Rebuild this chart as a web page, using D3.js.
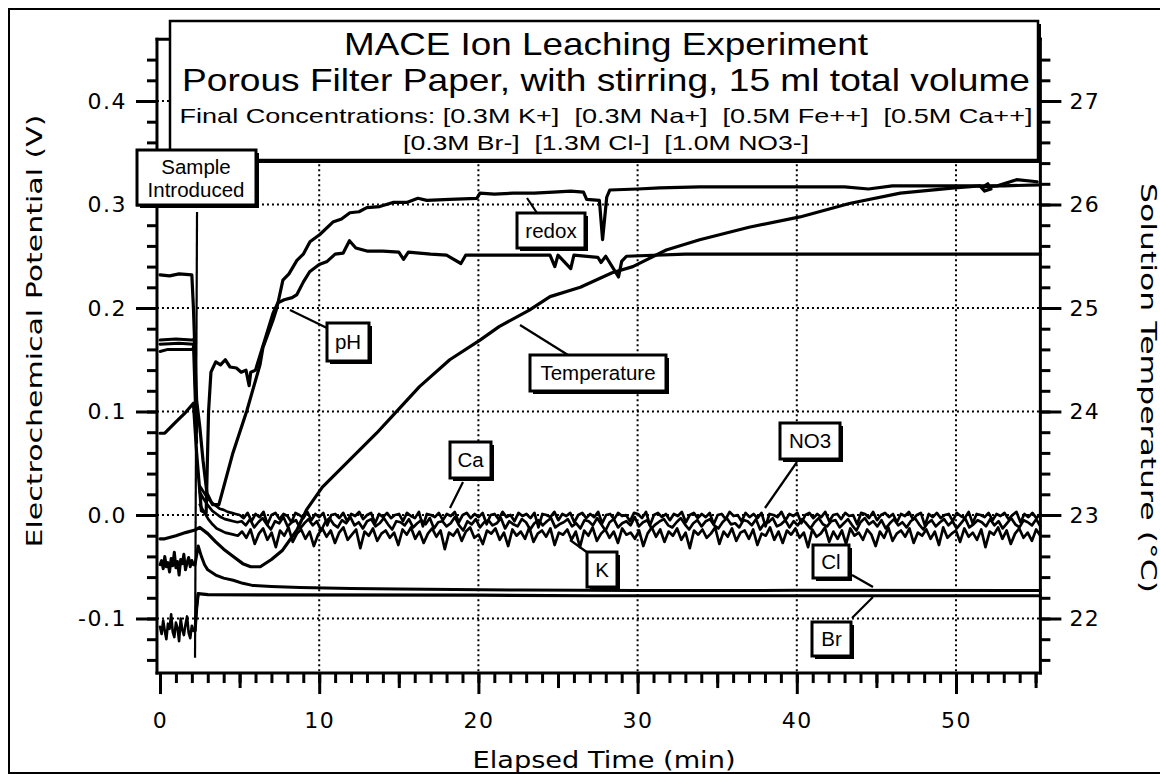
<!DOCTYPE html>
<html><head><meta charset="utf-8">
<script src="https://cdn.jsdelivr.net/npm/d3@7"></script>
<style>body{margin:0;background:#fff}svg{display:block}text{white-space:pre}</style>
</head><body>
<svg id="c" width="1160" height="774"></svg>
<script>
// ---------------- data ----------------
const titleLines = ["MACE Ion Leaching Experiment",
  "Porous Filter Paper, with stirring, 15 ml total volume",
  "Final Concentrations: [0.3M K+]  [0.3M Na+]  [0.5M Fe++]  [0.5M Ca++]",
  "[0.3M Br-]  [1.3M Cl-]  [1.0M NO3-]"];
const xTitle = "Elapsed Time (min)";
const yLeftTitle = "Electrochemical Potential (V)";
const yRightTitle = "Solution Temperature (°C)";
const xMajorTicks = [0,10,20,30,40,50];
const yLeftTicks = [-0.1,0,0.1,0.2,0.3,0.4];
const yRightTicks = [22,23,24,25,26,27];
const sampleTime = 2.2;

// redox (V) [min, V]
const redox = [[0,0.232],[0.6,0.231],[1.2,0.233],[2.0,0.232],[2.1,0.2],[2.3,0.111],[2.5,0.085],[2.7,0.053],[2.95,0.021],[3.3,0.010],[3.7,0.010],
 [4.58,0.060],[5.46,0.101],[6.28,0.145],[6.47,0.162],[7.09,0.188],[7.34,0.200],[7.72,0.227],[8.1,0.233],[8.6,0.246],[9.0,0.252],[9.42,0.264],[10.04,0.271],
 [10.86,0.283],[11.4,0.286],[11.93,0.292],[12.5,0.293],[12.99,0.297],[13.8,0.298],[14.63,0.302],[15.5,0.302],[16.2,0.306],[16.76,0.304],[18.2,0.305],[19.9,0.306],
 [20.1,0.311],[21.0,0.310],[22.2,0.311],[23.5,0.311],[24.7,0.312],[25.8,0.313],[26.6,0.312],[26.8,0.305],[27.6,0.304],[27.8,0.266],[28.06,0.307],[28.25,0.314],
 [30.0,0.315],[31.4,0.316],[33.9,0.317],[37,0.317],[40,0.317],[43,0.317],[44.5,0.315],[46,0.318],[50,0.318],[53,0.318],[55.3,0.319]];

// pH electrode (V)
const pH = [[0,0.079],[0.3,0.079],[1.0,0.09],[1.6,0.099],[2.1,0.108],[2.3,0.06],[2.6,0.004],[2.9,0.002],[3.05,0.10],[3.2,0.138],[3.5,0.148],[3.8,0.145],
 [4.1,0.150],[4.4,0.143],[4.8,0.142],[5.1,0.138],[5.4,0.140],[5.6,0.125],[5.7,0.138],[6.0,0.14],[6.3,0.155],[6.7,0.175],[7.1,0.195],[7.4,0.205],[7.8,0.208],
 [8.3,0.210],[8.6,0.213],[9.0,0.225],[9.4,0.235],[10.0,0.242],[10.5,0.245],[11.0,0.252],[11.5,0.253],[11.9,0.265],[12.3,0.258],[13.0,0.255],[14.0,0.255],
 [15.0,0.254],[15.3,0.247],[15.6,0.254],[17,0.252],[18,0.251],[18.9,0.243],[19.2,0.251],[22,0.251],[24.5,0.251],[24.8,0.24],[25,0.251],[25.8,0.238],
 [26,0.251],[27.5,0.249],[27.7,0.244],[28,0.25],[28.8,0.23],[29.0,0.245],[29.3,0.25],[33,0.252],[40,0.252],[48,0.252],[55.3,0.252]];

// temperature (°C, right axis)
const temperature = [[0,22.77],[0.3,22.77],[1.0,22.80],[1.6,22.83],[2.2,22.855],[2.5,22.88],[3.0,22.82],[3.5,22.74],[4.0,22.67],[4.6,22.6],[5.2,22.53],
 [5.7,22.50],[6.3,22.50],[7.0,22.57],[7.7,22.66],[8.6,22.855],[9.2,23.05],[10.2,23.27],[11.9,23.53],[13.6,23.79],[15.1,24.04],[16.3,24.24],[18.2,24.50],
 [20.1,24.69],[21.3,24.82],[23.2,24.98],[24.5,25.11],[26.4,25.20],[28.4,25.34],[29.7,25.40],[31.8,25.56],[33.9,25.66],[37,25.78],[40.2,25.88],[43.3,26.01],
 [46.5,26.11],[49.9,26.16],[51.5,26.18],[51.8,26.13],[52.2,26.15],[52.0,26.20],[51.7,26.17],[52.6,26.18],[53.8,26.24],[55.1,26.22]];

// ion electrodes before the sample (V)
const caPre  = [[0,0.169],[1.0,0.170],[2.0,0.169],[2.15,0.170],[2.3,0.08]];
const no3Pre = [[0,0.158],[0.5,0.160],[2.0,0.160],[2.15,0.162],[2.3,0.09]];
const kPre   = [[0,0.165],[1.2,0.166],[2.1,0.165],[2.3,0.07]];
// noisy ion electrode traces after sample (mV), from 2.5 min to 55.3 min
const bandStart = 2.5, bandEnd = 55.3;
const no3Band = [28,22,16,12,9,6,5,3,2,1,
0,-3,2,-6,1,-2,3,-9,0,2,-4,1,-1,-7,2,0,-3,3,-5,1,
-2,2,-10,0,1,-3,2,-6,1,-1,3,-4,0,2,-8,1,-2,2,-3,0,
1,-6,2,-1,-3,3,-11,1,0,-2,2,-5,1,-1,3,-7,0,2,-3,1,
-2,2,-9,0,1,-4,3,-2,0,-6,2,-1,1,-3,2,-12,1,0,-2,3,
-5,1,-1,2,-7,0,2,-3,1,-2,3,-8,0,1,-4,2,-1,0,-6,2,
1,-3,3,-10,0,2,-2,1,-5,1,-1,3,-7,0,2,-3,1,-2,2,-9,
0,1,-4,3,-1,0,-6,2,-2,1,-3,2,-11,1,0,-2,3,-5,1,-1,
2,-8,0,2,-3,1,-2,3,-6,0,1,-4,2,-1,0,-9,2,1,-3,3,
-5,0,2,-2,1,-7,1,-1,3,-4,0,2,-10,1,-2,2,-3,0,1,-6,
2,-1,-3,3,-8,1,0,-2,2,-5,1,-1,2,-4,0,3,-7,1,-2,2,-3,1];
const caBand = [22,15,9,4,1,-2,-4,-5,-6,-7,
-6,-10,-4,-12,-7,-3,-9,-14,-6,-8,-2,-11,-7,-5,-13,-8,-4,-10,-6,-15,
-7,-3,-9,-12,-5,-8,-2,-10,-7,-13,-6,-4,-11,-8,-3,-9,-14,-6,-7,-10,
-4,-12,-8,-5,-9,-3,-13,-7,-6,-11,-8,-2,-10,-15,-6,-9,-4,-12,-7,-5,
-10,-8,-3,-13,-6,-9,-11,-4,-7,-14,-8,-5,-10,-6,-3,-12,-9,-7,-4,-11,
-8,-13,-5,-6,-10,-3,-9,-15,-7,-4,-12,-8,-6,-10,-2,-11,-7,-5,-13,-9,
-6,-4,-10,-12,-7,-3,-9,-14,-8,-5,-11,-6,-4,-10,-13,-7,-3,-9,-8,-12,
-5,-6,-10,-4,-14,-8,-7,-3,-11,-9,-5,-12,-6,-10,-4,-8,-13,-7,-3,-9,
-11,-6,-5,-12,-8,-4,-10,-15,-7,-3,-9,-6,-11,-5,-13,-8,-4,-10,-7,-12,
-6,-3,-9,-14,-8,-5,-11,-7,-4,-10,-6,-13,-8,-3,-12,-9,-5,-7,-11,-4,
-10,-6,-13,-8,-3,-9,-12,-5,-7,-10,-4,-11];
const kBand = [10,3,-4,-9,-13,-15,-17,-18,-19,-20,
-16,-22,-14,-28,-18,-13,-24,-17,-31,-15,-20,-12,-26,-18,-14,-23,-16,-30,-19,-13,
-21,-15,-27,-17,-12,-24,-19,-14,-32,-16,-20,-13,-25,-18,-15,-22,-17,-29,-14,-19,
-12,-23,-16,-27,-18,-13,-21,-15,-33,-17,-20,-14,-25,-16,-12,-22,-19,-28,-15,-18,
-13,-24,-17,-30,-14,-20,-16,-23,-12,-26,-18,-15,-21,-13,-29,-17,-19,-14,-24,-16,
-31,-15,-20,-12,-25,-18,-14,-22,-16,-27,-13,-19,-17,-23,-15,-30,-18,-12,-21,-14,
-26,-16,-20,-13,-24,-17,-32,-15,-19,-14,-22,-18,-12,-28,-16,-21,-13,-25,-17,-15,
-23,-14,-29,-18,-20,-12,-24,-16,-27,-15,-19,-13,-22,-17,-31,-14,-21,-18,-12,-26,
-16,-23,-15,-28,-13,-20,-17,-24,-14,-19,-30,-16,-22,-12,-25,-18,-15,-21,-13,-27,
-17,-20,-14,-23,-16,-29,-12,-22,-18,-15,-26,-13,-21,-17,-24,-14,-31,-16,-19,-12,
-23,-15,-28,-18,-13,-22,-17,-25,-14,-20];
// Cl and Br before the sample: noisy (mV), 0 to 2.1 min
const clPreNoise = [-48,-44,-52,-40,-50,-46,-55,-42,-49,-36,-51,-45,-58,-43,-47,-38,-53,-46,-41,-50,-44,-48];
const brPreNoise = [-108,-115,-102,-112,-120,-105,-110,-96,-113,-118,-104,-109,-122,-100,-111,-116,-106,-98,-114,-119,-107,-112];
const preEnd = 2.1;
const clPost = [[2.2,-0.048],[2.4,-0.03],[2.6,-0.04],[2.8,-0.048],[3.0,-0.053],[3.5,-0.058],[4.0,-0.061],[4.6,-0.063],[5.2,-0.066],[5.8,-0.068],
 [7,-0.069],[8.8,-0.070],[12,-0.071],[15,-0.0715],[22.6,-0.0725],[30,-0.073],[40,-0.0728],[55.3,-0.073]];
const brPost = [[2.2,-0.112],[2.3,-0.09],[2.4,-0.076],[3,-0.077],[20,-0.0775],[27,-0.078],[55.3,-0.078]];

// ---------------- scales ----------------
const svg = d3.select("#c");
const x = d3.scaleLinear().domain([0, 50]).range([160, 956]);
const yL = d3.scaleLinear().domain([0, 0.4]).range([515, 101]);
const yR = d3.scaleLinear().domain([23, 27]).range([515, 101]);
const xMin = -0.19, xMax = 55.3, vMin = -0.1527, vMax = 0.4597;
const X0 = x(xMin), X1 = x(xMax), Y0 = yL(vMin), Y1 = yL(vMax);

const band = (arr) => { const st = (bandEnd - bandStart) / (arr.length - 1); return arr.map((v, i) => [bandStart + i * st, v / 1000]); };
const pre = (arr) => { const st = preEnd / (arr.length - 1); return arr.map((v, i) => [i * st, v / 1000]); };

// outer frame
svg.append("rect").attr("x", 9).attr("y", 9).attr("width", 1170).attr("height", 764)
  .attr("fill", "none").attr("stroke", "#000").attr("stroke-width", 2);

// grid
const grid = svg.append("g").attr("stroke", "#000").attr("stroke-width", 2).attr("stroke-dasharray", "2,3");
xMajorTicks.filter(d => d > 0).forEach(d => grid.append("line").attr("x1", x(d)).attr("x2", x(d)).attr("y1", Y1).attr("y2", Y0));
yLeftTicks.forEach(d => grid.append("line").attr("x1", X0).attr("x2", X1).attr("y1", yL(d)).attr("y2", yL(d)));

// lines
const lineL = d3.line().x(d => x(d[0])).y(d => yL(d[1]));
const lineR = d3.line().x(d => x(d[0])).y(d => yR(d[1]));
const g = svg.append("g").attr("fill", "none").attr("stroke", "#000").attr("stroke-linejoin", "round").attr("stroke-linecap", "round");
const draw = (data, gen, w) => g.append("path").attr("d", gen(data)).attr("stroke-width", w);

draw(brPost, lineL, 3.2);
draw(pre(brPreNoise).concat(brPost.slice(0, 3)), lineL, 2.6);
draw(pre(clPreNoise).concat(clPost), lineL, 3);
draw(kPre, lineL, 3); draw(band(kBand), lineL, 2.7);
draw(caPre, lineL, 3); draw(band(caBand), lineL, 2.7);
draw(no3Pre, lineL, 3); draw(band(no3Band), lineL, 2.7);
draw(temperature, lineR, 3.2);
draw(pH, lineL, 3.2);
draw(redox, lineL, 3.2);

// axes
const ax = svg.append("g");
function styleAxis(sel) {
  sel.select(".domain").remove();
  sel.selectAll("line").attr("stroke", "#000").attr("stroke-width", 3);
  sel.selectAll("text").attr("fill", "#000").attr("font-family", "DejaVu Sans").attr("font-size", 22).attr("letter-spacing", 1.5);
}
const fmt1 = d => d.toFixed(1);
// left
ax.append("g").attr("transform", `translate(${X0},0)`)
  .call(d3.axisLeft(yL).tickValues(d3.range(-14, 46, 2).map(v => v / 100)).tickSize(10).tickFormat("")).call(styleAxis);
ax.append("g").attr("transform", `translate(${X0},0)`)
  .call(d3.axisLeft(yL).tickValues(yLeftTicks).tickSize(21).tickPadding(9).tickFormat(fmt1)).call(styleAxis);
// right
ax.append("g").attr("transform", `translate(${X1},0)`)
  .call(d3.axisRight(yR).tickValues(d3.range(216, 276, 2).map(v => v / 10)).tickSize(10).tickFormat("")).call(styleAxis);
ax.append("g").attr("transform", `translate(${X1},0)`)
  .call(d3.axisRight(yR).tickValues(yRightTicks).tickSize(21).tickPadding(8).tickFormat(d3.format("d"))).call(styleAxis);
// bottom
ax.append("g").attr("transform", `translate(0,${Y0})`)
  .call(d3.axisBottom(x).tickValues(d3.range(0, 56, 1)).tickSize(10).tickFormat("")).call(styleAxis);
ax.append("g").attr("transform", `translate(0,${Y0})`)
  .call(d3.axisBottom(x).tickValues(d3.range(5, 56, 10)).tickSize(15).tickFormat("")).call(styleAxis);
ax.append("g").attr("transform", `translate(0,${Y0})`)
  .call(d3.axisBottom(x).tickValues(xMajorTicks).tickSize(21).tickPadding(18).tickFormat(d3.format("d"))).call(styleAxis);
// frame lines
const fr = svg.append("g").attr("stroke", "#000").attr("stroke-width", 3).attr("stroke-linecap", "square");
fr.append("line").attr("x1", X0).attr("x2", X0).attr("y1", Y1).attr("y2", Y0);
fr.append("line").attr("x1", X1).attr("x2", X1).attr("y1", Y1).attr("y2", Y0);
fr.append("line").attr("x1", X0).attr("x2", X1).attr("y1", Y0).attr("y2", Y0);
fr.append("line").attr("x1", X0).attr("x2", X1).attr("y1", Y1).attr("y2", Y1);

// axis titles
svg.append("text").attr("transform", "translate(604,768)")
  .attr("text-anchor", "middle").attr("font-family", "DejaVu Sans").attr("font-size", 23)
  .attr("textLength", 263).attr("lengthAdjust", "spacingAndGlyphs").text(xTitle);
svg.append("text").attr("transform", "translate(42,331) rotate(-90)")
  .attr("text-anchor", "middle").attr("font-family", "DejaVu Sans").attr("font-size", 22)
  .attr("textLength", 433).attr("lengthAdjust", "spacingAndGlyphs").text(yLeftTitle);
svg.append("text").attr("transform", "translate(1141,388) rotate(90)")
  .attr("text-anchor", "middle").attr("font-family", "DejaVu Sans").attr("font-size", 22)
  .attr("textLength", 410).attr("lengthAdjust", "spacingAndGlyphs").text(yRightTitle);

// boxed labels
function box(x0, y0, w, h, sw, off) {
  svg.append("rect").attr("x", x0 + off).attr("y", y0 + off).attr("width", w).attr("height", h).attr("fill", "#000");
  svg.append("rect").attr("x", x0).attr("y", y0).attr("width", w).attr("height", h)
    .attr("fill", "#fff").attr("stroke", "#000").attr("stroke-width", sw);
}
function leader(p1, p2) {
  svg.append("line").attr("x1", p1[0]).attr("y1", p1[1]).attr("x2", p2[0]).attr("y2", p2[1])
    .attr("stroke", "#000").attr("stroke-width", 2.2);
}
function label(x0, y0, w, h, txt, fs) {
  box(x0, y0, w, h, 3, 3);
  svg.append("text").attr("x", x0 + w / 2).attr("y", y0 + h / 2 + fs * 0.36).attr("text-anchor", "middle")
    .attr("font-family", "Liberation Sans, Arial, sans-serif").attr("font-size", fs).text(txt);
}

// title box
box(170, 21, 868, 139, 2.5, 3);
const tl = [[55, 32, 524], [91, 32, 848], [123, 21, 853], [150, 21, 406]];
titleLines.forEach((t, i) => svg.append("text").attr("x", 606).attr("y", tl[i][0]).attr("text-anchor", "middle")
  .attr("font-family", "Liberation Sans, Arial, sans-serif").attr("font-size", tl[i][1])
  .attr("textLength", tl[i][2]).attr("lengthAdjust", "spacingAndGlyphs").text(t));

// sample introduced
leader([x(sampleTime) + 2, 212], [x(sampleTime), yL(-0.138)]);
box(137, 150, 119, 55, 3, 3);
svg.append("text").attr("x", 196).attr("y", 174).attr("text-anchor", "middle").attr("font-family", "Liberation Sans, Arial, sans-serif").attr("font-size", 20.5).text("Sample");
svg.append("text").attr("x", 196).attr("y", 197).attr("text-anchor", "middle").attr("font-family", "Liberation Sans, Arial, sans-serif").attr("font-size", 20.5).text("Introduced");

// series labels
leader([527, 198], [537, 213]); label(517, 213, 68, 35, "redox", 20.5);
leader([290, 310], [327, 328]); label(327, 323, 42, 38, "pH", 20.5);
leader([520, 325], [568, 355]); label(530, 355, 136, 36, "Temperature", 20.5);
leader([463, 482], [450, 508]); label(450, 442, 41, 36, "Ca", 20.5);
leader([797, 462], [765, 508]); label(780, 423, 60, 36, "NO3", 20.5);
leader([570, 540], [588, 553]); label(587, 552, 30, 35, "K", 20.5);
leader([852, 575], [873, 587]); label(813, 545, 36, 33, "Cl", 20.5);
leader([852, 618], [873, 597]); label(812, 622, 39, 34, "Br", 20.5);
</script>
</body></html>
